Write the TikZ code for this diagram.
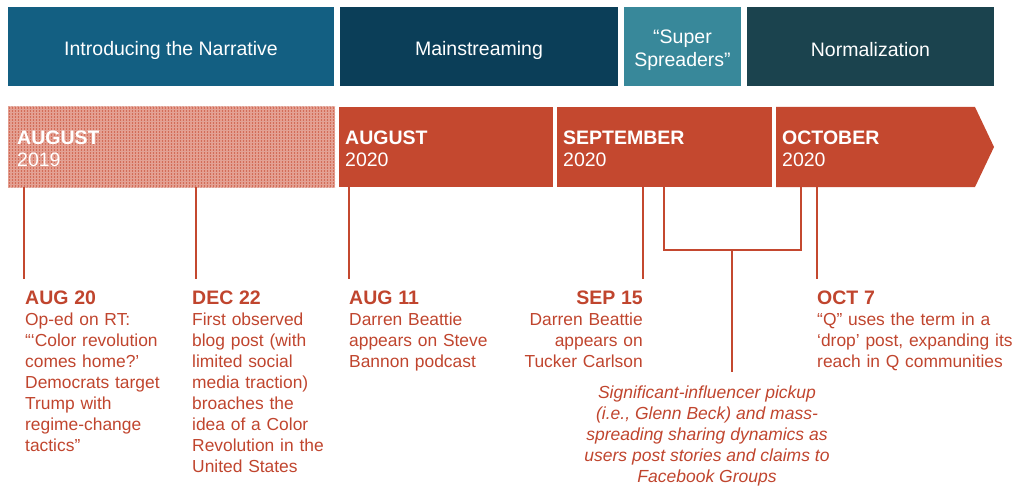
\documentclass[tikz,border=0pt]{standalone}
\usepackage{fontspec}
\setmainfont{Liberation Sans}
\usetikzlibrary{patterns.meta}
\definecolor{hdrA}{HTML}{135F82}
\definecolor{hdrB}{HTML}{0B3E58}
\definecolor{hdrC}{HTML}{38889A}
\definecolor{hdrD}{HTML}{1B434E}
\definecolor{barred}{HTML}{C4482F}
\definecolor{txtred}{HTML}{C0452E}
\definecolor{hatchbg}{HTML}{E69C8D}
\newcommand{\ttl}[1]{{\fontsize{19.5}{21}\selectfont\bfseries #1}}
\begin{document}
\begin{tikzpicture}[x=1pt,y=-1pt,
  hdr/.style={inner sep=0pt, minimum height=79pt},
  hdrtxt/.style={inner sep=0pt, text=white, align=center,
    font=\fontsize{19.5}{22.5}\selectfont},
  bartxt/.style={inner sep=0pt, text=white, align=left, anchor=north west,
    font=\fontsize{19.5}{22}\selectfont},
  evt/.style={inner sep=0pt, text=txtred, font=\fontsize{17.4}{21}\selectfont},
  conn/.style={draw=barred, line width=2pt}
]
\useasboundingbox (0,0) rectangle (1013,487);

% header boxes
\node[hdr, fill=hdrA, minimum width=326pt] (h1) at (171,46.5) {};
\node[hdr, fill=hdrB, minimum width=278pt] (h2) at (479,46.5) {};
\node[hdr, fill=hdrC, minimum width=117pt] (h3) at (682.5,46.5) {};
\node[hdr, fill=hdrD, minimum width=247pt] (h4) at (870.5,46.5) {};
\node[hdrtxt] (l1) at ([yshift=-3.5pt]h1.center) {Introducing the Narrative};
\node[hdrtxt] (l2) at ([yshift=-3.5pt]h2.center) {Mainstreaming};
\node[hdrtxt] (l3) at ([yshift=-3.5pt]h3.center) {“Super\\Spreaders”};
\node[hdrtxt] (l4) at ([yshift=-3.5pt]h4.center) {Normalization};

% timeline bar
\fill[hatchbg] (8,107) rectangle (335,187);
\fill[pattern={Lines[distance=3pt,angle=90,line width=0.9pt]}, pattern color=barred!80] (8,107) rectangle (335,187);
\fill[pattern={Lines[distance=3pt,angle=0,line width=0.7pt]}, pattern color=barred!50] (8,107) rectangle (335,187);
\fill[barred] (339,107) rectangle (553,187);
\fill[barred] (557,107) rectangle (772,187);
\fill[barred] (776,107) -- (975,107) -- (994,147) -- (975,187) -- (776,187) -- cycle;

\node[bartxt] (b1) at (17,130.5) {\textbf{AUGUST}\\2019};
\node[bartxt] (b2) at (345,130.5) {\textbf{AUGUST}\\2020};
\node[bartxt] (b3) at (563,130.5) {\textbf{SEPTEMBER}\\2020};
\node[bartxt] (b4) at (782,130.5) {\textbf{OCTOBER}\\2020};

% event texts
\node[evt, anchor=north west, text width=165pt, align=left] (e1) at (25,291)
  {\ttl{AUG 20}\\Op-ed on RT:\\“‘Color revolution\\comes home?’\\Democrats target\\Trump with\\regime-change\\tactics”};
\node[evt, anchor=north west, text width=150pt, align=left] (e2) at (192,291)
  {\ttl{DEC 22}\\First observed\\blog post (with\\limited social\\media traction)\\broaches the\\idea of a Color\\Revolution in the\\United States};
\node[evt, anchor=north west, text width=160pt, align=left] (e3) at (349,291)
  {\ttl{AUG 11}\\Darren Beattie\\appears on Steve\\Bannon podcast};
\node[evt, anchor=north east, text width=160pt, align=right] (e4) at (643,291)
  {\ttl{SEP 15}\\Darren Beattie\\appears on\\Tucker Carlson};
\node[evt, anchor=north west, text width=230pt, align=left] (e5) at (817,291)
  {\ttl{OCT 7}\\“Q” uses the term in a\\‘drop’ post, expanding its\\reach in Q communities};
\node[evt, anchor=north, align=center, font=\fontsize{17.5}{21}\selectfont\itshape] (e6) at (707,385.5)
  {Significant-influencer pickup\\(i.e., Glenn Beck) and mass-\\spreading sharing dynamics as\\users post stories and claims to\\Facebook Groups};

% connectors
\coordinate (t1) at (24,187);  \coordinate (s1) at (24,279);
\coordinate (t2) at (196,187); \coordinate (s2) at (196,279);
\coordinate (t3) at (349,187); \coordinate (s3) at (349,279);
\coordinate (t4) at (643,187); \coordinate (s4) at (643,279);
\coordinate (t5) at (817,187); \coordinate (s5) at (817,279);
\coordinate (ka) at (664,187); \coordinate (kb) at (801,187);
\coordinate (km) at (732,250); \coordinate (ke) at (732,372);
\draw[conn] (t1) -- (s1);
\draw[conn] (t2) -- (s2);
\draw[conn] (t3) -- (s3);
\draw[conn] (t4) -- (s4);
\draw[conn] (t5) -- (s5);
\draw[conn] (ka) |- (km) -| (kb);
\draw[conn] (km) -- (ke);
\end{tikzpicture}
\end{document}
